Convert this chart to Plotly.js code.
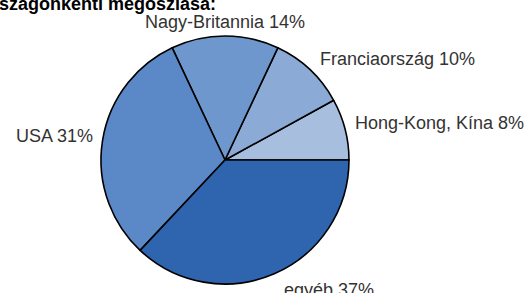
<!DOCTYPE html>
<html>
<head>
<meta charset="utf-8">
<script src="https://cdn.plot.ly/plotly-3.0.1.min.js"></script>
<style>html,body{margin:0;padding:0;background:#fff;}#chart{width:531px;height:293px;}</style>
</head>
<body>
<div id="chart"></div>
<script>
const categories = ["Hong-Kong, Kína", "Franciaország", "Nagy-Britannia", "USA", "egyéb"];
const shares = [8, 10, 14, 31, 37];
const sliceColors = ["#a8bedf", "#8caad6", "#6e98cd", "#5b88c6", "#2e65ae"];
const titleText = "országonkénti megoszlása:";

const labelFont = { family: "Liberation Sans, Arial, sans-serif", size: 18, color: "#333" };

const trace = {
  type: "pie",
  labels: categories,
  values: shares,
  sort: false,
  direction: "counterclockwise",
  rotation: 61.2,
  marker: { colors: sliceColors, line: { color: "#000", width: 1.6 } },
  textposition: "none",
  hoverinfo: "none",
  showlegend: false
};

// outside labels placed at each slice's mid-angle (computed from the data)
const total = shares.reduce((a, b) => a + b, 0);
let cum = 0;
const labelAnnotations = categories.map((name, i) => {
  const mid = (cum + shares[i] / 2) / total * 2 * Math.PI;
  cum += shares[i];
  const c = Math.cos(mid), s = Math.sin(mid);
  const xanchor = c > 0.2 ? "left" : (c < -0.2 ? "right" : "center");
  return {
    text: name + " " + shares[i] + "%",
    xref: "paper", yref: "paper",
    x: 0.5 + 0.5 * c, y: 0.5 + 0.5 * s,
    xanchor: xanchor, yanchor: "middle",
    xshift: xanchor === "left" ? 8 : (xanchor === "right" ? -8 : 0),
    yshift: 11 * s + (s > 0 ? 3 : -6),
    showarrow: false,
    font: labelFont
  };
});

const layout = {
  width: 531, height: 293,
  margin: { l: 101, r: 182, t: 36, b: 9 },
  paper_bgcolor: "#fff",
  showlegend: false,
  annotations: [{
    text: "<b>" + titleText + "</b>",
    xref: "paper", yref: "paper",
    x: -0.492, y: 1.081,
    xanchor: "left", yanchor: "bottom",
    showarrow: false,
    font: { family: "Liberation Sans, Arial, sans-serif", size: 18, color: "#000" }
  }].concat(labelAnnotations)
};

Plotly.newPlot("chart", [trace], layout, { displayModeBar: false, staticPlot: true });
</script>
</body>
</html>
